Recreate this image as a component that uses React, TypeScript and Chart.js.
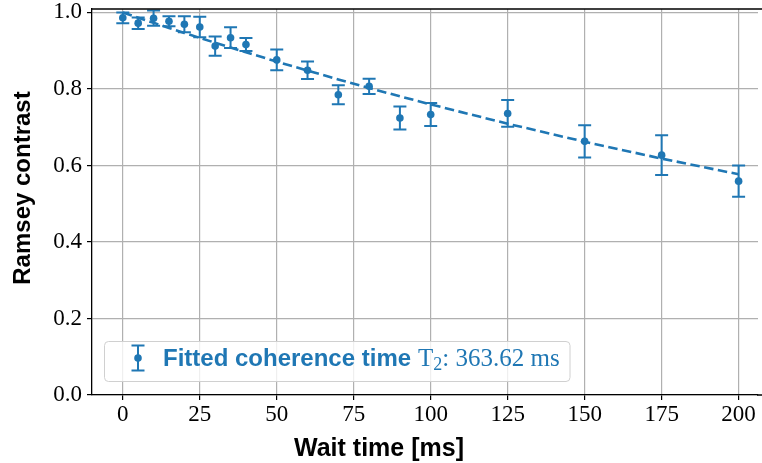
import React, { useEffect, useRef } from 'react';
import { Chart, registerables } from 'chart.js';

Chart.register(...registerables);

// ---- data ----
const WAIT_MS = [0, 5, 10, 15, 20, 25, 30, 35, 40, 50, 60, 70, 80, 90, 100, 125, 150, 175, 200];
const CONTRAST = [0.986, 0.972, 0.985, 0.977, 0.969, 0.962, 0.912, 0.934, 0.916, 0.876, 0.849, 0.785, 0.807, 0.724, 0.733, 0.736, 0.663, 0.627, 0.559];
const CONTRAST_ERR = [0.014, 0.015, 0.02, 0.013, 0.021, 0.027, 0.025, 0.027, 0.017, 0.027, 0.023, 0.025, 0.02, 0.03, 0.03, 0.035, 0.042, 0.052, 0.041];
const FIT_MS = [0, 5, 10, 15, 20, 25, 30, 35, 40, 50, 60, 70, 80, 90, 100, 125, 150, 175, 200];
const FIT_CONTRAST = [1.0, 0.9863, 0.9729, 0.9596, 0.9465, 0.9336, 0.9208, 0.9082, 0.8958, 0.8715, 0.8479, 0.8249, 0.8025, 0.7808, 0.7596, 0.7091, 0.662, 0.618, 0.577];
const X_TICKS = [0, 25, 50, 75, 100, 125, 150, 175, 200];
const X_TICK_LABELS = ['0', '25', '50', '75', '100', '125', '150', '175', '200'];
const Y_TICKS = [0, 0.2, 0.4, 0.6, 0.8, 1.0];
const Y_TICK_LABELS = ['0.0', '0.2', '0.4', '0.6', '0.8', '1.0'];
const X_TITLE = 'Wait time [ms]';
const Y_TITLE = 'Ramsey contrast';
const LEGEND_LABEL = 'Fitted coherence time';
const LEGEND_T = 'T';
const LEGEND_SUB = '2';
const LEGEND_VALUE = ': 363.62 ms';

const BLUE = '#1f77b4';
const SANS = '"Liberation Sans", Arial, sans-serif';
const SERIF = '"Liberation Serif", "Times New Roman", serif';

const errorBarPlugin = {
  id: 'errorBars',
  beforeDatasetsDraw(chart: any) {
    const { ctx, scales } = chart;
    const x = scales.x;
    const y = scales.y;
    ctx.save();
    ctx.strokeStyle = BLUE;
    ctx.lineWidth = 2;
    WAIT_MS.forEach((t, i) => {
      const px = x.getPixelForValue(t);
      const top = y.getPixelForValue(CONTRAST[i] + CONTRAST_ERR[i]);
      const bot = y.getPixelForValue(CONTRAST[i] - CONTRAST_ERR[i]);
      ctx.beginPath();
      ctx.moveTo(px, top);
      ctx.lineTo(px, bot);
      ctx.moveTo(px - 6.5, top);
      ctx.lineTo(px + 6.5, top);
      ctx.moveTo(px - 6.5, bot);
      ctx.lineTo(px + 6.5, bot);
      ctx.stroke();
    });
    ctx.restore();
  },
};

const decorPlugin = {
  id: 'decor',
  afterDraw(chart: any) {
    const { ctx, chartArea } = chart;
    ctx.save();
    // top spine and bottom spine continuation to the cropped right edge
    ctx.strokeStyle = '#000';
    ctx.lineWidth = 1.3;
    ctx.beginPath();
    ctx.moveTo(chartArea.left, chartArea.top);
    ctx.lineTo(762, chartArea.top);
    ctx.moveTo(chartArea.right - 1, chartArea.bottom);
    ctx.lineTo(762, chartArea.bottom);
    ctx.stroke();

    // axis titles
    ctx.fillStyle = '#000';
    ctx.font = `bold 25px ${SANS}`;
    ctx.textAlign = 'center';
    ctx.textBaseline = 'alphabetic';
    ctx.fillText(X_TITLE, 379, 456);
    ctx.save();
    ctx.translate(30, 188);
    ctx.rotate(-Math.PI / 2);
    ctx.font = `bold 24px ${SANS}`;
    ctx.fillText(Y_TITLE, 0, 0);
    ctx.restore();

    // legend box
    const bx = 104.5, by = 341.5, bw = 465.5, bh = 40, r = 4;
    ctx.beginPath();
    ctx.moveTo(bx + r, by);
    ctx.lineTo(bx + bw - r, by);
    ctx.arcTo(bx + bw, by, bx + bw, by + r, r);
    ctx.lineTo(bx + bw, by + bh - r);
    ctx.arcTo(bx + bw, by + bh, bx + bw - r, by + bh, r);
    ctx.lineTo(bx + r, by + bh);
    ctx.arcTo(bx, by + bh, bx, by + bh - r, r);
    ctx.lineTo(bx, by + r);
    ctx.arcTo(bx, by, bx + r, by, r);
    ctx.closePath();
    ctx.fillStyle = 'rgba(255,255,255,0.8)';
    ctx.fill();
    ctx.strokeStyle = '#d0d0d0';
    ctx.lineWidth = 1;
    ctx.stroke();

    // legend handle (error bar)
    const hx = 138, ht = 345.5, hb = 370.5;
    ctx.strokeStyle = BLUE;
    ctx.lineWidth = 2;
    ctx.beginPath();
    ctx.moveTo(hx, ht);
    ctx.lineTo(hx, hb);
    ctx.moveTo(hx - 6.5, ht);
    ctx.lineTo(hx + 6.5, ht);
    ctx.moveTo(hx - 6.5, hb);
    ctx.lineTo(hx + 6.5, hb);
    ctx.stroke();
    ctx.fillStyle = BLUE;
    ctx.beginPath();
    ctx.arc(hx, 358, 3.8, 0, Math.PI * 2);
    ctx.fill();

    // legend text
    ctx.textAlign = 'left';
    ctx.textBaseline = 'alphabetic';
    ctx.font = `bold 24px ${SANS}`;
    const base = 366;
    let tx = 163;
    ctx.fillText(LEGEND_LABEL, tx, base);
    tx = 418;
    ctx.font = `25px ${SERIF}`;
    ctx.fillText(LEGEND_T, tx, base);
    tx += ctx.measureText(LEGEND_T).width;
    ctx.font = `18px ${SERIF}`;
    ctx.fillText(LEGEND_SUB, tx, base + 4);
    tx += ctx.measureText(LEGEND_SUB).width;
    ctx.font = `25px ${SERIF}`;
    ctx.fillText(LEGEND_VALUE, tx, base);

    ctx.restore();
  },
};

export default function App() {
  const ref = useRef<HTMLCanvasElement | null>(null);

  useEffect(() => {
    if (!ref.current) return;
    const chart = new Chart(ref.current, {
      type: 'scatter',
      data: {
        datasets: [
          {
            type: 'line',
            label: 'fit',
            data: FIT_MS.map((t, i) => ({ x: t, y: FIT_CONTRAST[i] })),
            borderColor: BLUE,
            borderWidth: 2.6,
            borderDash: [9.5, 4.5],
            pointRadius: 0,
            fill: false,
            tension: 0,
          },
          {
            type: 'scatter',
            label: LEGEND_LABEL,
            data: WAIT_MS.map((t, i) => ({ x: t, y: CONTRAST[i] })),
            backgroundColor: BLUE,
            borderColor: BLUE,
            pointRadius: 3.8,
            pointBorderWidth: 0,
          },
        ],
      },
      options: {
        animation: false,
        responsive: false,
        devicePixelRatio: 1,
        clip: false,
        layout: { padding: { top: 9, left: 0, right: 0, bottom: 0 } },
        plugins: { legend: { display: false }, tooltip: { enabled: false } },
        scales: {
          x: {
            type: 'linear',
            min: -10,
            max: 206.3,
            afterBuildTicks: (scale: any) => {
              scale.ticks = X_TICKS.map((v) => ({ value: v }));
            },
            afterFit: (scale: any) => {
              scale.height = 68;
              scale.paddingLeft = 0;
              scale.paddingRight = 0;
            },
            ticks: {
              autoSkip: false,
              maxRotation: 0,
              padding: 1,
              color: '#000',
              font: { family: SERIF, size: 23 },
              callback: (_v: any, i: number) => X_TICK_LABELS[i],
            },
            grid: {
              color: '#b0b0b0',
              lineWidth: 1.2,
              tickLength: 5,
              tickColor: '#000',
              tickWidth: 1.2,
            },
            border: { color: '#000', width: 1.3 },
          },
          y: {
            type: 'linear',
            min: 0,
            max: 1.009,
            afterBuildTicks: (scale: any) => {
              scale.ticks = Y_TICKS.map((v) => ({ value: v }));
            },
            afterFit: (scale: any) => {
              scale.width = 92;
              scale.paddingTop = 0;
              scale.paddingBottom = 0;
            },
            ticks: {
              autoSkip: false,
              padding: 5,
              color: '#000',
              font: { family: SERIF, size: 23 },
              callback: (_v: any, i: number) => Y_TICK_LABELS[i],
            },
            grid: {
              color: '#b0b0b0',
              lineWidth: 1.2,
              tickLength: 5,
              tickColor: '#000',
              tickWidth: 1.2,
            },
            border: { color: '#000', width: 1.3 },
          },
        },
      },
      plugins: [errorBarPlugin, decorPlugin],
    } as any);
    return () => chart.destroy();
  }, []);

  return (
    <div style={{ position: 'fixed', left: 0, top: 0, width: 762, height: 463, background: '#fff' }}>
      <canvas ref={ref} width={762} height={463} style={{ width: 762, height: 463, display: 'block' }} />
    </div>
  );
}
